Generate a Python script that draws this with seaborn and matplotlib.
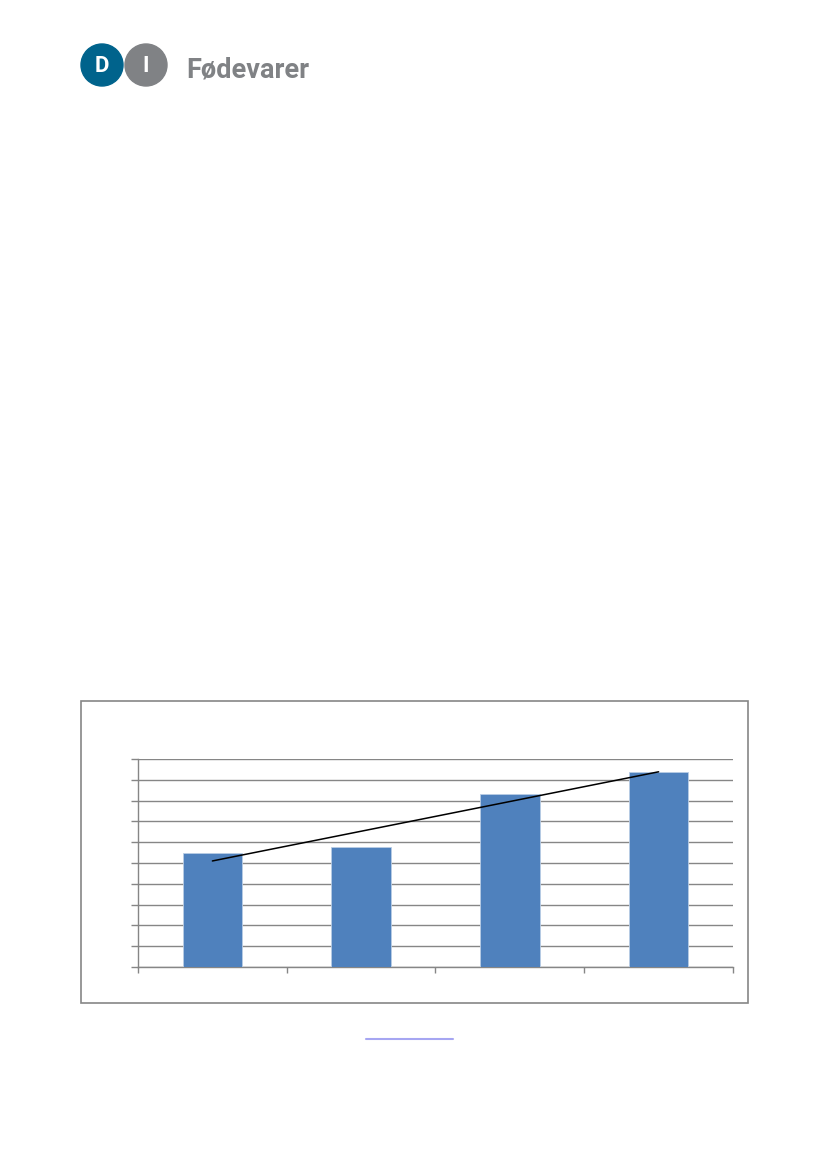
import matplotlib
matplotlib.use("Agg")
import matplotlib.pyplot as plt
from matplotlib.patches import Circle, Rectangle
import seaborn as sns
import numpy as np
import pandas as pd

# bar values (gridlines 0..10, no labels shown)
periods = ["P1", "P2", "P3", "P4"]
values = [5.48, 5.77, 8.33, 9.39]
y_ticks = list(range(0, 11))

BAR_BLUE = "#4F81BD"
GRID_GREY = "#868686"
LOGO_BLUE = "#00638C"
LOGO_GREY = "#808285"

sns.set_theme(style="white")
plt.rcParams["font.family"] = ["Roboto", "DejaVu Sans"]

fig = plt.figure(figsize=(8.27, 11.69), dpi=100)

# page layer in pixel coordinates for the logo, frame and link line
page = fig.add_axes([0, 0, 1, 1], zorder=0)
page.set_xlim(0, 827)
page.set_ylim(1169, 0)
page.axis("off")

page.add_patch(Circle((102, 65), 21, color=LOGO_BLUE))
page.add_patch(Circle((146, 65), 21, color=LOGO_GREY))
page.text(102, 72.5, "D", color="white", fontsize=16, fontweight="bold",
          ha="center", va="baseline")
page.text(146, 72.5, "I", color="white", fontsize=16, fontweight="bold",
          ha="center", va="baseline")
page.text(186, 77.5, "Fødevarer", color=LOGO_GREY, fontsize=19.5,
          fontweight="bold", ha="left", va="baseline")

page.add_patch(Rectangle((81, 701), 667, 302, fill=False,
                         edgecolor=GRID_GREY, linewidth=1.2))
page.plot([366, 453], [1039, 1039], color="#A6A6F2", linewidth=1.5)

# chart
df = pd.DataFrame({"period": periods, "value": values})
ax = fig.add_axes([0.1669, 0.1728, 0.7194, 0.1779], zorder=1)
ax.patch.set_alpha(0)
sns.barplot(data=df, x="period", y="value", color=BAR_BLUE, width=0.4,
            saturation=1, ax=ax, zorder=3)
for bar in ax.patches:
    bar.set_edgecolor("#B9CDE5")
    bar.set_linewidth(0.6)

# linear trendline through the bars
xs = np.arange(len(values))
slope, intercept = np.polyfit(xs, values, 1)
ax.plot(xs, slope * xs + intercept, color="black", linewidth=1.1, zorder=4)

ax.set_xlim(-0.5, len(values) - 0.5)
ax.set_ylim(0, 10)
ax.set_yticks(y_ticks)
ax.set_xticks(np.arange(len(values) + 1) - 0.5)
ax.set_xticklabels([])
ax.set_yticklabels([])
ax.set_xlabel("")
ax.set_ylabel("")
ax.yaxis.grid(True, color=GRID_GREY, linewidth=1.0)
ax.set_axisbelow(True)
ax.tick_params(axis="y", left=True, length=5, width=1, color=GRID_GREY)
ax.tick_params(axis="x", bottom=True, length=4, width=1, color=GRID_GREY)
for side in ["top", "right"]:
    ax.spines[side].set_visible(False)
for side in ["left", "bottom"]:
    ax.spines[side].set_color(GRID_GREY)
    ax.spines[side].set_linewidth(1.0)

fig.savefig("out.png", dpi=100)
plt.close(fig)
